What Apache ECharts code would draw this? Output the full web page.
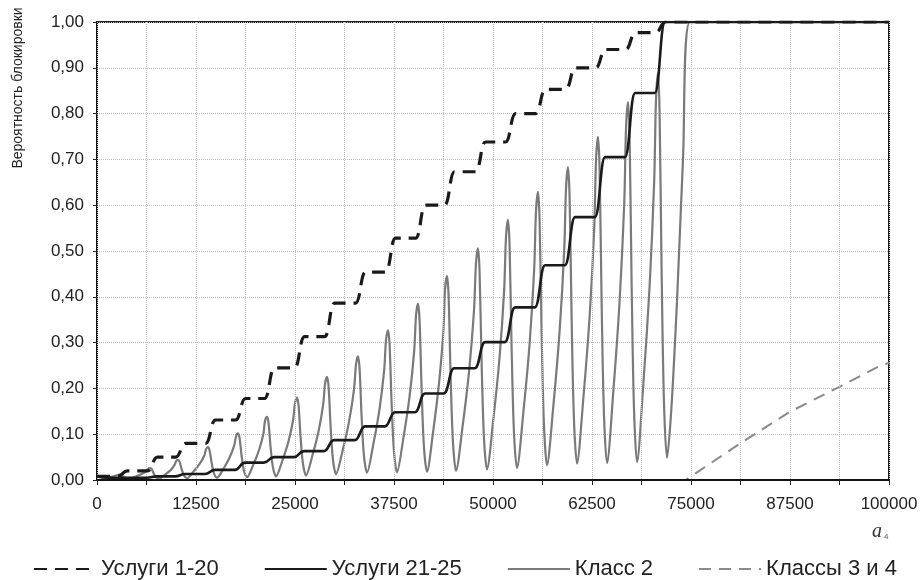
<!DOCTYPE html>
<html>
<head>
<meta charset="utf-8">
<script src="https://cdn.jsdelivr.net/npm/echarts@6/dist/echarts.min.js"></script>
<style>
  html, body { margin: 0; padding: 0; background: #fff; }
  #chart { width: 921px; height: 580px; }
</style>
</head>
<body>
<div id="chart"></div>
<script>
// названия рядов (легенда)
var seriesNames = ['Услуги 1-20', 'Услуги 21-25', 'Класс 2', 'Классы 3 и 4'];

// Услуги 1-20 — ступеньки (начало и конец каждого подъёма)
var uslugi1_20 = [
    [0, 0.008], [2600, 0.008], [3850, 0.020],
    [6390, 0.020], [7640, 0.050],
    [9930, 0.050], [11180, 0.080],
    [13710, 0.080], [14960, 0.131],
    [17500, 0.131], [18750, 0.178],
    [21160, 0.178], [22410, 0.245],
    [24950, 0.245], [26200, 0.313],
    [28740, 0.313], [29990, 0.386],
    [32650, 0.386], [33900, 0.454],
    [36440, 0.454], [37690, 0.528],
    [40230, 0.528], [41480, 0.600],
    [43890, 0.600], [45140, 0.673],
    [47800, 0.673], [49050, 0.738],
    [51590, 0.738], [52840, 0.800],
    [55380, 0.800], [56630, 0.853],
    [59170, 0.853], [60420, 0.900],
    [62960, 0.900], [64210, 0.940],
    [66750, 0.940], [68000, 0.977],
    [70530, 0.977], [71780, 1.000],
    [100000, 1.000]
];

// Услуги 21-25
var uslugi21_25 = [
    [0, 0.009], [1500, 0.005],
    [6290, 0.005], [7590, 0.008],
    [9830, 0.008], [11130, 0.013],
    [13610, 0.013], [14910, 0.022],
    [17400, 0.022], [18700, 0.038],
    [21060, 0.038], [22360, 0.050],
    [24850, 0.050], [26150, 0.063],
    [28640, 0.063], [29940, 0.087],
    [32550, 0.087], [33850, 0.117],
    [36340, 0.117], [37640, 0.148],
    [40130, 0.148], [41430, 0.189],
    [43790, 0.189], [45090, 0.244],
    [47700, 0.244], [49000, 0.301],
    [51490, 0.301], [52790, 0.377],
    [55280, 0.377], [56580, 0.469],
    [59070, 0.469], [60370, 0.574],
    [62860, 0.574], [64160, 0.705],
    [66650, 0.705], [67950, 0.845],
    [70430, 0.845], [71730, 1.000],
    [100000, 1.000]
];

// Класс 2 — колебания: впадина, подъём, пик, спад
var klass2 = [
    [0, 0.008], [1000, 0.004], [2100, 0.008], [2900, 0.012], [3350, 0.007], [4040, 0.002],
    [4835, 0.007], [5630, 0.013], [6210, 0.019], [6440, 0.024], [6690, 0.026], [6890, 0.024], [7140, 0.015], [7440, 0.006], [7830, 0.003],
    [8550, 0.011], [9270, 0.021], [9800, 0.033], [9980, 0.041], [10230, 0.044], [10430, 0.040], [10680, 0.024], [10980, 0.010], [11370, 0.004],
    [12160, 0.018], [12950, 0.035], [13540, 0.053], [13760, 0.067], [14010, 0.072], [14210, 0.065], [14460, 0.039], [14760, 0.015], [15150, 0.005],
    [15950, 0.024], [16740, 0.049], [17320, 0.075], [17550, 0.095], [17800, 0.102], [18000, 0.092], [18250, 0.054], [18550, 0.020], [18940, 0.006],
    [19700, 0.032], [20450, 0.065], [21010, 0.101], [21210, 0.129], [21460, 0.138], [21660, 0.125], [21910, 0.073], [22210, 0.028], [22600, 0.008],
    [23400, 0.042], [24190, 0.085], [24770, 0.132], [25000, 0.168], [25250, 0.180], [25450, 0.163], [25700, 0.095], [26000, 0.036], [26390, 0.010],
    [27190, 0.053], [27980, 0.107], [28560, 0.165], [28790, 0.210], [29040, 0.225], [29240, 0.204], [29490, 0.119], [29790, 0.045], [30180, 0.013],
    [31010, 0.064], [31840, 0.129], [32450, 0.198], [32700, 0.252], [32950, 0.270], [33150, 0.245], [33400, 0.143], [33700, 0.054], [34090, 0.016],
    [34890, 0.078], [35680, 0.156], [36260, 0.240], [36490, 0.305], [36740, 0.327], [36940, 0.296], [37190, 0.172], [37490, 0.064], [37880, 0.017],
    [38680, 0.091], [39470, 0.183], [40050, 0.282], [40280, 0.359], [40530, 0.385], [40730, 0.348], [40980, 0.202], [41280, 0.073], [41670, 0.018],
    [42430, 0.104], [43180, 0.211], [43740, 0.326], [43940, 0.416], [44190, 0.446], [44390, 0.403], [44640, 0.233], [44940, 0.084], [45330, 0.020],
    [46160, 0.117], [46990, 0.239], [47600, 0.370], [47850, 0.472], [48100, 0.506], [48300, 0.458], [48550, 0.265], [48850, 0.095], [49240, 0.023],
    [50040, 0.132], [50830, 0.268], [51410, 0.415], [51640, 0.530], [51890, 0.568], [52090, 0.514], [52340, 0.297], [52640, 0.107], [53030, 0.026],
    [53830, 0.147], [54620, 0.297], [55200, 0.460], [55430, 0.587], [55680, 0.629], [55880, 0.569], [56130, 0.331], [56430, 0.122], [56820, 0.032],
    [57620, 0.162], [58410, 0.325], [58990, 0.501], [59220, 0.637], [59470, 0.683], [59670, 0.618], [59920, 0.360], [60220, 0.133], [60610, 0.036],
    [61410, 0.179], [62200, 0.357], [62780, 0.549], [63010, 0.699], [63260, 0.749], [63460, 0.678], [63710, 0.393], [64010, 0.144], [64400, 0.037],
    [65200, 0.195], [65990, 0.392], [66570, 0.604], [66800, 0.770], [67050, 0.825], [67250, 0.746], [67500, 0.432], [67800, 0.157], [68190, 0.039],
    [68980, 0.209], [69770, 0.422], [70350, 0.651], [70580, 0.830], [70830, 0.889], [71030, 0.805], [71280, 0.469], [71580, 0.174], [71970, 0.048],
    [72500, 0.150], [73230, 0.390], [73990, 0.700], [74870, 1.000], [100000, 1.000]
];

// Классы 3 и 4
var klassy3_4 = [
    [0, 0], [74300, 0], [75200, 0.010], [81200, 0.080], [87500, 0.149],
    [93800, 0.204], [98600, 0.247], [100000, 0.256]
];

var chart = echarts.init(document.getElementById('chart'));
var font = '"Liberation Sans", Arial, sans-serif';

var option = {
    animation: false,
    backgroundColor: '#fff',
    textStyle: { fontFamily: font },
    grid: {
        left: 97,
        right: 32,
        top: 22,
        bottom: 100,
        show: true,
        borderColor: '#1e1e1e',
        borderWidth: 2,
        outerBoundsMode: 'none'
    },
    legend: {
        data: seriesNames,
        left: 28,
        top: 553,
        itemWidth: 62,
        itemHeight: 12,
        itemGap: 45,
        itemStyle: { opacity: 0 },
        textStyle: { fontSize: 22, color: '#222', fontFamily: font }
    },
    xAxis: {
        type: 'value',
        min: 0,
        max: 100000,
        interval: 6250,
        z: 3,
        axisLine: { show: true, lineStyle: { color: '#111', width: 2 } },
        axisTick: { show: true, inside: false, length: 5, lineStyle: { color: '#222', width: 1 } },
        axisLabel: {
            margin: 16,
            fontSize: 17,
            color: '#222',
            formatter: function (v) { return v % 12500 === 0 ? String(v) : ''; }
        },
        splitLine: { show: true, lineStyle: { color: '#c4c4c4', type: 'dotted', width: 1 } }
    },
    yAxis: {
        type: 'value',
        min: 0,
        max: 1,
        interval: 0.1,
        axisLine: { show: true, lineStyle: { color: '#111', width: 2 } },
        axisTick: { show: true, inside: false, length: 4, lineStyle: { color: '#222', width: 1 } },
        axisLabel: {
            margin: 13,
            fontSize: 17,
            color: '#222',
            formatter: function (v) { return v.toFixed(2).replace('.', ','); }
        },
        splitLine: { show: true, lineStyle: { color: '#bdbdbd', type: 'dotted', width: 1 } }
    },
    graphic: [
        {
            type: 'text',
            x: 18,
            y: 88,
            rotation: Math.PI / 2,
            style: {
                text: 'Вероятность блокировки',
                font: '14px "Liberation Sans", Arial, sans-serif',
                fill: '#222',
                align: 'center',
                verticalAlign: 'middle'
            }
        },
        {
            type: 'text',
            x: 872,
            y: 522,
            style: {
                text: '{a|a}{s|4}',
                fill: '#333',
                rich: {
                    a: { fontFamily: '"Liberation Serif", "DejaVu Serif", serif', fontStyle: 'italic', fontSize: 20, fill: '#333' },
                    s: { fontFamily: font, fontSize: 8, fill: '#555', padding: [10, 0, 0, 2] }
                }
            }
        }
    ],
    series: [
        {
            name: 'Услуги 1-20',
            type: 'line',
            data: uslugi1_20,
            symbol: 'none',
            smooth: 0.5,
            smoothMonotone: 'x',
            z: 5,
            lineStyle: { color: '#1a1a1a', width: 3.2, type: [13, 8] },
            itemStyle: { color: 'rgba(0,0,0,0)' }
        },
        {
            name: 'Услуги 21-25',
            type: 'line',
            data: uslugi21_25,
            symbol: 'none',
            smooth: 0.5,
            smoothMonotone: 'x',
            z: 4,
            lineStyle: { color: '#1a1a1a', width: 2.6 },
            itemStyle: { color: 'rgba(0,0,0,0)' }
        },
        {
            name: 'Класс 2',
            type: 'line',
            data: klass2,
            symbol: 'none',
            smooth: 0.3,
            z: 2,
            lineStyle: { color: '#7a7a7a', width: 2.2 },
            itemStyle: { color: 'rgba(0,0,0,0)' }
        },
        {
            name: 'Классы 3 и 4',
            type: 'line',
            data: klassy3_4,
            symbol: 'none',
            z: 2,
            lineStyle: { color: '#8a8a8a', width: 2, type: [12, 8] },
            itemStyle: { color: 'rgba(0,0,0,0)' }
        }
    ]
};

chart.setOption(option);
</script>
</body>
</html>
